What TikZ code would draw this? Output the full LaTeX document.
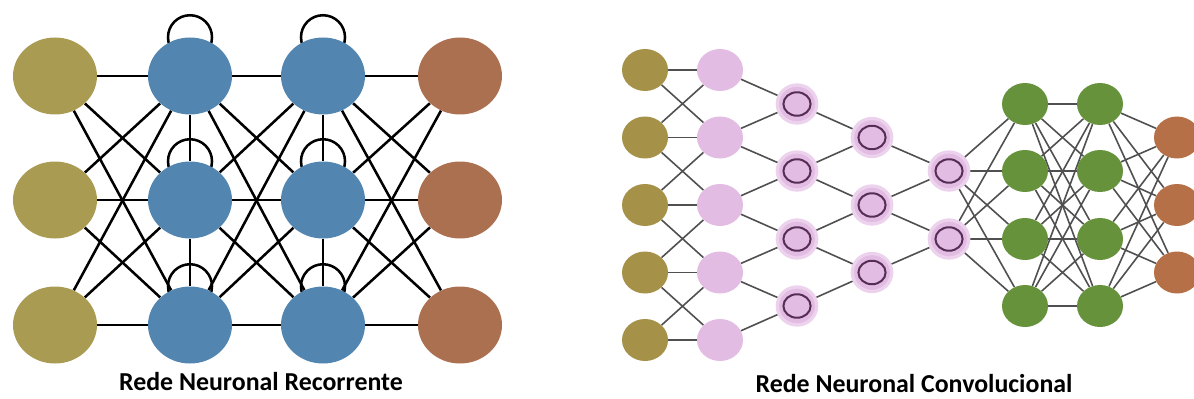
\documentclass[tikz,border=0pt]{standalone}
\usepackage{fontspec}
\setsansfont{Carlito}
\usepackage{tikz}
\usetikzlibrary{shapes.geometric, backgrounds}

\begin{document}
\begin{tikzpicture}[
    x=0.75pt, y=-0.75pt,
    font=\sffamily\bfseries\fontsize{19.4}{21}\selectfont,
    cell/.style n args={3}{
        ellipse, fill=#1, inner sep=0pt,
        minimum width=#2, minimum height=#3
    },
    rcell/.style={cell={#1}{63pt}{57.75pt}},
    ccell/.style={cell={#1}{34.5pt}{31.5pt}},
    ring/.style={
        cell={#1}{29.5pt}{28.5pt}, draw=chalo, line width=2.5pt,
        path picture={\draw[ringc, line width=1.5pt]
            (path picture bounding box.center) ellipse (10.2pt and 8.8pt);}
    },
    rlink/.style={line width=1.9pt, black},
    clink/.style={line width=1.2pt, linkc},
]

\definecolor{rolive}{RGB}{170,155,82}
\definecolor{rblue}{RGB}{82,134,176}
\definecolor{rbrown}{RGB}{170,112,80}
\definecolor{colive}{RGB}{165,145,72}
\definecolor{cpink}{RGB}{226,188,226}
\definecolor{chalo}{RGB}{237,210,237}
\definecolor{ringc}{RGB}{85,45,85}
\definecolor{cgreen}{RGB}{102,146,60}
\definecolor{cbrown}{RGB}{182,112,72}
\definecolor{linkc}{RGB}{80,80,80}

\useasboundingbox (0,0) rectangle (1194,399);

% ============================================================
% Recurrent net
% ============================================================

\foreach \r/\y in {1/76, 2/200, 3/325} {
    \node[rcell=rolive] (ri\r) at (55,\y) {};
    \node[rcell=rblue]  (rh\r) at (190,\y) {};
    \node[rcell=rblue]  (rk\r) at (323,\y) {};
    \node[rcell=rbrown] (ro\r) at (460,\y) {};
}

\begin{scope}[on background layer]
    \foreach \a in {1,2,3}
        \foreach \b in {1,2,3} {
            \draw[rlink] (ri\a) -- (rh\b);
            \draw[rlink] (rh\a) -- (rk\b);
            \draw[rlink] (rk\a) -- (ro\b);
        }
    \draw[rlink] (rh1) -- (rh2) -- (rh3);
    \draw[rlink] (rk1) -- (rk2) -- (rk3);
    % self loops, half hidden behind the cell
    \foreach \n in {rh1,rh2,rh3,rk1,rk2,rk3}
        \draw[rlink] (\n.north) circle[radius=16.5pt];
\end{scope}

\node (rtitle) at (261,382) {Rede Neuronal Recorrente};

% ============================================================
% Convolutional net
% ============================================================

\foreach \r/\y in {1/70, 2/137.5, 3/205, 4/272.5, 5/340} {
    \node[ccell=colive] (ci\r) at (645,\y) {};
    \node[ccell=cpink]  (cp\r) at (720,\y) {};
}
\foreach \r/\y in {1/104, 2/171, 3/239, 4/306} {
    \node[ring=cpink]   (ca\r) at (797,\y) {};
    \node[ccell=cgreen] (cg\r) at (1025,\y) {};
    \node[ccell=cgreen] (ch\r) at (1100,\y) {};
}
\foreach \r/\y in {1/137.5, 2/205, 3/272.5} {
    \node[ring=cpink]   (cb\r) at (872,\y) {};
    \node[ccell=cbrown] (co\r) at (1177,\y) {};
}
\node[ring=cpink] (cc1) at (949,171) {};
\node[ring=cpink] (cc2) at (949,239) {};

\begin{scope}[on background layer]
    % local links between the feature columns
    \foreach \r in {1,...,5}
        \draw[clink] (ci\r) -- (cp\r);
    \foreach \r/\s in {1/2, 2/3, 3/4, 4/5} {
        \draw[clink] (ci\r) -- (cp\s);
        \draw[clink] (ci\s) -- (cp\r);
        \draw[clink] (cp\r) -- (ca\r) -- (cp\s);
    }
    \foreach \r/\s in {1/2, 2/3, 3/4}
        \draw[clink] (ca\r) -- (cb\r) -- (ca\s);
    \foreach \r/\s in {1/2, 2/3}
        \draw[clink] (cb\r) -- (cc\r) -- (cb\s);
    % dense part
    \foreach \a in {1,2}
        \foreach \b in {1,...,4}
            \draw[clink] (cc\a) -- (cg\b);
    \foreach \a in {1,...,4} {
        \foreach \b in {1,...,4}
            \draw[clink] (cg\a) -- (ch\b);
        \foreach \b in {1,2,3}
            \draw[clink] (ch\a) -- (co\b);
    }
\end{scope}

\node (ctitle) at (914,384) {Rede Neuronal Convolucional};

\end{tikzpicture}
\end{document}
